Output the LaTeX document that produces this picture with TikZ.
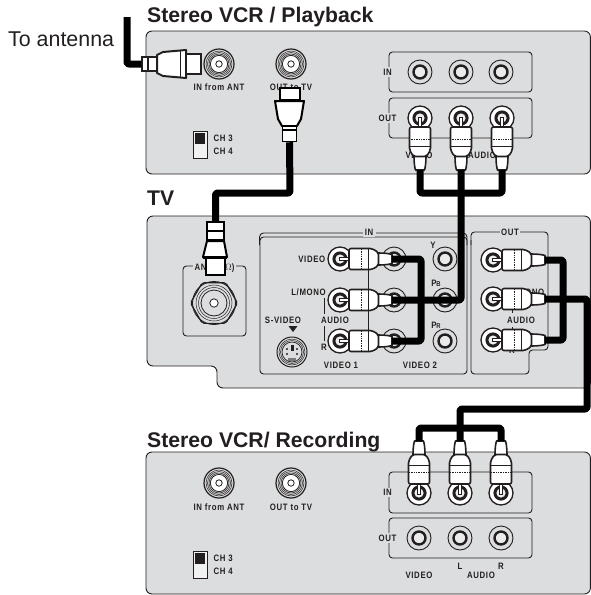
\documentclass[tikz,border=0pt]{standalone}
\usepackage{fontspec}
\setmainfont{Liberation Sans}
\newfontfamily\labf{Liberation Sans}[FakeStretch=0.84,LetterSpace=7]
\usetikzlibrary{shapes.geometric,calc}
\definecolor{panel}{HTML}{DCDDDE}
\definecolor{ink}{HTML}{231F20}
\tikzset{
  panelbox/.style={draw=ink,line width=0.9pt,fill=panel},
  groupbox/.style={draw=ink,line width=0.9pt,rounded corners=3.5pt},
  lab/.style={font=\labf\bfseries\fontsize{9.3}{10}\selectfont,text=ink,inner sep=0.5pt},
  gaplab/.style={lab,fill=panel,inner sep=1.5pt},
  head/.style={font=\bfseries\fontsize{21.2}{22}\selectfont,text=ink,anchor=base west,inner sep=0},
  cable/.style={draw=black,line width=7pt,rounded corners=2pt,line join=round},
  jackring/.style={circle,draw=ink,line width=0.9pt,minimum size=24pt,inner sep=0},
  jackcore/.style={circle,draw=ink,line width=2.4pt,minimum size=13pt,inner sep=0,fill=panel!60!white},
  plugline/.style={draw=ink,line width=1.6pt,fill=white,line join=round},
  thin/.style={draw=ink,line width=0.7pt},
}
% free RCA jack
\newcommand{\jackA}[3]{%
  \node[jackring] (#1) at (#2,#3) {};
  \node[jackcore] at (#1.center) {};}
% RCA jack with a plug in it: name, x, y, rotation
\newcommand{\plugA}[4]{%
  \node[jackring,fill=white,line width=1.3pt] (#1) at (#2,#3) {};
  \begin{scope}[shift={(#2,#3)},rotate=#4]
    \fill[ink] (0,0) circle (7.6);
    \fill[panel!50!white] (0,0) circle (4.6);
    \draw[draw=ink,line width=1pt,fill=white] (-1,-1.6) rectangle (11,1.6);
    \draw[plugline] (38,-6) .. controls (44,-6) and (49,-5.5) .. (52,-4.5) -- (52,4.5)
       .. controls (49,5.5) and (44,6) .. (38,6) -- cycle;
    \draw[plugline,rounded corners=2pt] (9,-10.5) -- (32,-10.5) -- (38.5,-6.5) -- (38.5,6.5) -- (32,10.5) -- (9,10.5) -- cycle;
    \draw[draw=ink,line width=0.7pt,densely dotted] (21,-10) -- (21,10);
    \draw[draw=ink,line width=0.8pt] (28,-10) -- (28,10);
    \coordinate (#1tip) at (52,0);
  \end{scope}}
% coaxial jack
\newcommand{\coaxA}[3]{%
  \node[circle,draw=ink,line width=1.2pt,minimum size=30pt,inner sep=0] (#1) at (#2,#3) {};
  \draw[ink,line width=.5pt] (#1.center) circle (13) circle (11.5) circle (10);
  \fill[white] (#1.center) circle (8.6);
  \draw[ink,line width=.8pt] (#1.center) circle (8.6);
  \draw[ink,line width=.8pt,fill=white] (#1.center) circle (3.2);}
% channel switch
\newcommand{\chsw}[3]{%
  \node[draw=ink,line width=.9pt,fill=panel!40!white,minimum width=14pt,minimum height=27pt,inner sep=0] (#1) at (#2,#3) {};
  \fill[ink] ($(#1.north west)+(2,2)$) rectangle ($(#1.north east)+(-2,13)$);
  \node[lab,anchor=west] at ($(#1.east)+(5.5,-6.5)$) {CH 3};
  \node[lab,anchor=west] at ($(#1.east)+(5.5,6.5)$) {CH 4};}
% IN / OUT group of three jacks on a VCR
\newcommand{\grpbox}[3]{%
  \draw[groupbox] (389,#1) rectangle (532,#2);
  \node[gaplab] at (387.5,{(#1+#2)/2}) {#3};}
\begin{document}
\begin{tikzpicture}[x=1pt,y=-1pt]
\useasboundingbox (0,0) rectangle (591,595);
\fill[white] (0,0) rectangle (591,595);

% ---------- headings
\node[head] (h1) at (147,22) {Stereo VCR / Playback};
\node[head] (h2) at (147,205) {TV};
\node[head] (h3) at (147,447) {Stereo VCR/ Recording};
\node[font=\fontsize{21.4}{22}\selectfont,text=ink,anchor=base west,inner sep=0] (ant) at (8,46.5) {To antenna};

% ---------- panels
\draw[panelbox,rounded corners=6pt] (146,31) rectangle (590.4,174);
\draw[panelbox,rounded corners=6pt] (147,216) -- (590.4,216) -- (590.4,388) -- (217,388) -- (217,366) -- (147,366) -- cycle;
\draw[panelbox,rounded corners=6pt] (146,452) rectangle (590.4,594);

% ---------- VCR playback
\coaxA{pin}{219}{64}
\coaxA{pout}{291}{64}
\node[lab] at (219,87) {IN from ANT};
\node[lab] at (291,87) {OUT to TV};
\chsw{psw}{200}{145}
\grpbox{52}{92}{IN}
\grpbox{98}{138}{OUT}
\jackA{pi1}{420}{72}\jackA{pi2}{461}{72}\jackA{pi3}{501}{72}
\node[lab] at (419,155) {VIDEO};
\node[lab] at (482,155) {AUDIO};
\plugA{po1}{420}{118}{-90}
\plugA{po2}{461}{118}{-90}
\plugA{po3}{502}{118}{-90}

% ---------- VCR recording
\coaxA{rin}{219}{483}
\coaxA{rout}{291}{483}
\node[lab] at (219,507) {IN from ANT};
\node[lab] at (291,507) {OUT to TV};
\chsw{rsw}{200}{565}
\grpbox{472}{513}{IN}
\grpbox{518}{558}{OUT}
\jackA{ro1}{419}{538}\jackA{ro2}{460}{538}\jackA{ro3}{501}{538}
\node[lab] at (419,575) {VIDEO};
\node[lab] at (460,566) {L};
\node[lab] at (481,575) {AUDIO};
\node[lab] at (501,566) {R};
\plugA{ri1}{419}{493}{90}
\plugA{ri2}{460}{493}{90}
\plugA{ri3}{501}{493}{90}

% ---------- TV antenna
\draw[groupbox] (183,266) rectangle (246,336);
\node[gaplab] at (214.5,268) {ANT(75$\Omega$)};
\node[regular polygon,regular polygon sides=6,shape border rotate=0,draw=ink,line width=1.2pt,minimum size=47pt,inner sep=0,rounded corners=2pt] (tvant) at (214,303) {};
\draw[ink,line width=.9pt] (tvant.center) circle (21.5);
\draw[ink,line width=.5pt] (tvant.center) circle (18) circle (15.5);
\draw[ink,line width=.8pt] (tvant.center) circle (13);
\draw[ink,line width=.8pt,fill=white] (tvant.center) circle (4.2);

% ---------- TV IN group
\draw[draw=ink,line width=0.9pt,rounded corners=4pt] (363,233) -- (259.5,233) -- (259.5,245);
\draw[groupbox] (260,237) rectangle (467,374);
\draw[draw=ink,line width=0.9pt,rounded corners=4pt] (376,233) -- (467,233) -- (467,245);
\node[gaplab] at (369,232) {IN};
\node[lab,anchor=east] at (326,259) {VIDEO};
\node[lab,anchor=east] at (326.5,292) {L/MONO};
\node[lab] at (335,320) {AUDIO};
\node[lab] at (324,347) {R};
\draw[thin] (324,298) -- (324,314);
\draw[thin] (324,326) -- (324,341);
\draw[thin] (368,262) -- (368,338);
\node[lab] at (341,365) {VIDEO 1};
\node[lab] at (420,365) {VIDEO 2};
\node[lab] at (283,320) {S-VIDEO};
\fill[ink] (288.5,326) -- (297.5,326) -- (293,332) -- cycle;
\node[circle,draw=ink,line width=1pt,minimum size=30pt,inner sep=0] (sv) at (292,352) {};
\draw[ink,line width=.5pt] (sv.center) circle (13) circle (11.5);
\draw[ink,line width=.7pt] (sv.center) circle (10);
\fill[ink] ($(sv.center)+(-5,-3)$) circle (1.2) ($(sv.center)+(5,-3)$) circle (1.2) ($(sv.center)+(-5,2)$) circle (1.2) ($(sv.center)+(5,2)$) circle (1.2);
\fill[ink] ($(sv.center)+(-1.5,-7)$) rectangle ($(sv.center)+(1.5,-1)$);
\fill[ink!60] ($(sv.center)+(-4,6)$) rectangle ($(sv.center)+(4,9)$);
\jackA{v21}{394}{259}\jackA{v22}{394}{300}\jackA{v23}{394}{341}
\jackA{jy}{445}{259}\jackA{jb}{445}{300}\jackA{jr}{445}{341}
\node[lab] at (433,245) {Y};
\node[lab] at (436,283) {P\scalebox{.75}{B}};
\node[lab] at (436,325) {P\scalebox{.75}{R}};
\plugA{v11}{340}{259}{0}
\plugA{v12}{340}{300}{0}
\plugA{v13}{340}{341}{0}

% ---------- TV OUT group
\draw[groupbox] (471,245) -- (471,232) -- (503,232);
\draw[groupbox] (518,232) -- (548,232) -- (548,350) -- (529,350) -- (529,374) -- (471,374) -- (471,240);
\node[gaplab] at (510,232) {OUT};
\node[lab,anchor=east] at (545,292) {L/MONO};
\node[lab] at (521,320) {AUDIO};
\node[lab] at (512,350) {R};
\draw[thin] (512,308) -- (512,313);
\draw[thin] (512,327) -- (512,335);
\plugA{o1}{493}{260}{0}
\plugA{o2}{493}{299}{0}
\plugA{o3}{493}{340}{0}

% ---------- coax plugs
\node[draw=ink,line width=1.5pt,fill=white,minimum width=15pt,minimum height=14pt,inner sep=0] (a1) at (149.5,64) {};
\draw[ink,line width=1.5pt] (a1.center)++(-1.5,-7) -- ++(0,14);
\draw[ink,line width=2pt,fill=white,line join=round] (157,55) -- (163,52) -- (186,50) -- (186,78) -- (163,76) -- (157,73) -- cycle;
\draw[ink,line width=.8pt] (180,51) -- (180,77);
\node[draw=ink,line width=1.5pt,fill=white,minimum width=15pt,minimum height=20pt,inner sep=0] (a2) at (193.5,64) {};

\node[draw=black,line width=2pt,fill=white,minimum width=20pt,minimum height=12pt,inner sep=0] (b1) at (290,94) {};
\draw[black,line width=2pt,fill=white,line join=round] (275,101) -- (304,101) -- (301,119) -- (297,126) -- (282,126) -- (278,119) -- cycle;
\node[draw=black,line width=1.5pt,fill=white,minimum width=14pt,minimum height=15pt,inner sep=0] (b2) at (289.5,134) {};
\draw[black,line width=1.5pt] (282.5,130) -- (296.5,130);

\node[draw=black,line width=2pt,fill=white,minimum width=19pt,minimum height=18pt,inner sep=0] (c1) at (215.5,266) {};
\draw[black,line width=2pt,fill=white,line join=round] (207,241) -- (224,241) -- (227,257) -- (203,257) -- cycle;
\draw[black,line width=3pt] (203,257.5) -- (227,257.5);
\node[draw=black,line width=2pt,fill=white,minimum width=17pt,minimum height=18pt,inner sep=0] (c2) at (215.5,231) {};
\draw[black,line width=1.5pt] (207,231) -- (224,231);

% ---------- cables
\coordinate (aTop) at (127,17);
\draw[cable] (aTop) -- (127,64) -- (a1.west);
\draw[cable] (b2.south) -- (290,193) -- (215.5,193) -- (c2.north);
\draw[cable] (po1tip) -- (420,193) -- (502,193) -- (po3tip);
\draw[cable] (po2tip) -- (461,300) -- (v12tip);
\draw[cable] (v11tip) -- (421,259) -- (421,341) -- (v13tip);
\draw[cable] (o1tip) -- (563,260) -- (563,340) -- (o3tip);
\draw[cable] (o2tip) -- (587,299) -- (587,409) -- (460,409) -- (ri2tip);
\draw[cable] (ri1tip) -- (419,428) -- (501,428) -- (ri3tip);
\end{tikzpicture}
\end{document}
